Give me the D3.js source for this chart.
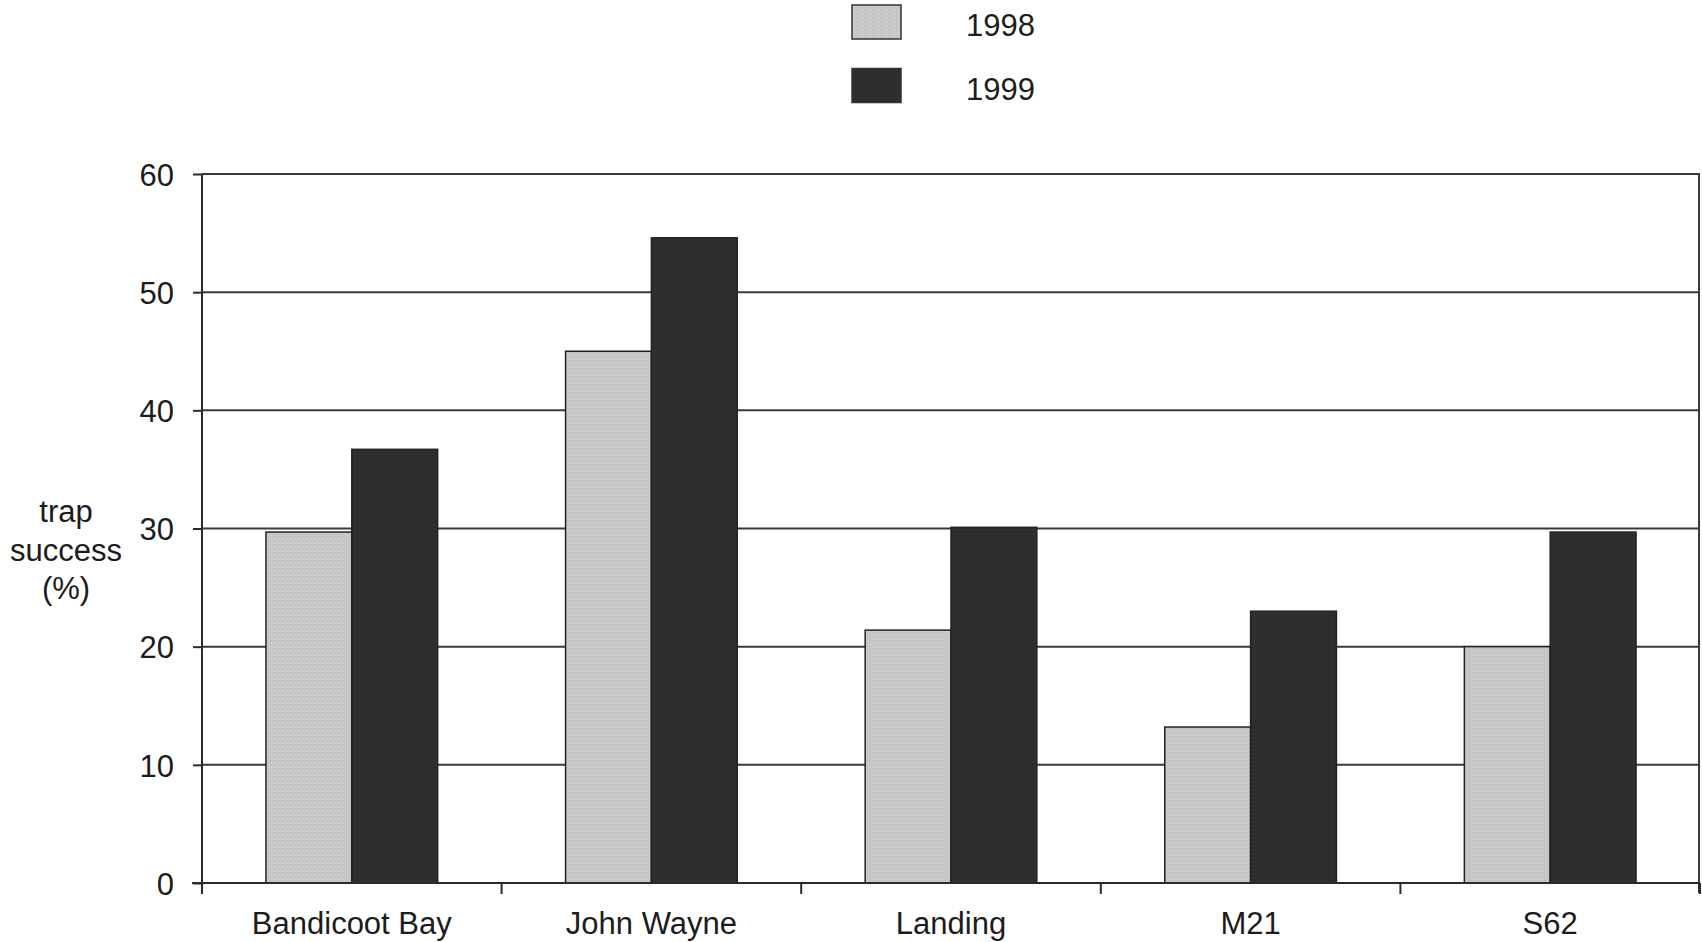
<!DOCTYPE html>
<html>
<head>
<meta charset="utf-8">
<script src="https://cdn.jsdelivr.net/npm/d3@7"></script>
<style>
  html, body { margin: 0; padding: 0; background: #fff; }
  svg { display: block; font-family: "Liberation Sans", Arial, sans-serif; }
</style>
</head>
<body>
<svg id="chart" width="1702" height="942"></svg>
<script>
// Trap success by site, 1998 vs 1999
const sites = ["Bandicoot Bay", "John Wayne", "Landing", "M21", "S62"];
const years = ["1998", "1999"];
const values1998 = [29.7, 45.0, 21.4, 13.2, 20.0];
const values1999 = [36.7, 54.6, 30.1, 23.0, 29.7];
const yTicks = [0, 10, 20, 30, 40, 50, 60];
const yTitle = ["trap", "success", "(%)"];

const seriesByYear = { "1998": values1998, "1999": values1999 };
const fills = { "1998": "url(#lightStipple)", "1999": "url(#darkStipple)" };

const svg = d3.select("#chart");
const plot = { left: 202, right: 1700, top: 174, bottom: 883 };

// stippled fills for the bars
const defs = svg.append("defs");
const light = defs.append("pattern").attr("id", "lightStipple")
  .attr("patternUnits", "userSpaceOnUse").attr("width", 4).attr("height", 4);
light.append("rect").attr("width", 4).attr("height", 4).attr("fill", "#c8c8c8");
light.append("rect").attr("x", 0).attr("y", 0).attr("width", 1).attr("height", 1).attr("fill", "#b2b2b2");
light.append("rect").attr("x", 2).attr("y", 2).attr("width", 1).attr("height", 1).attr("fill", "#b7b7b7");
light.append("rect").attr("x", 1).attr("y", 3).attr("width", 1).attr("height", 1).attr("fill", "#d6d6d6");
light.append("rect").attr("x", 3).attr("y", 1).attr("width", 1).attr("height", 1).attr("fill", "#d4d4d4");
const dark = defs.append("pattern").attr("id", "darkStipple")
  .attr("patternUnits", "userSpaceOnUse").attr("width", 4).attr("height", 4);
dark.append("rect").attr("width", 4).attr("height", 4).attr("fill", "#2e2e2e");
dark.append("rect").attr("x", 1).attr("y", 1).attr("width", 1).attr("height", 1).attr("fill", "#363636");
dark.append("rect").attr("x", 3).attr("y", 3).attr("width", 1).attr("height", 1).attr("fill", "#262626");

const x = d3.scaleBand().domain(sites)
  .range([plot.left, plot.right]).paddingInner(0.427).paddingOuter(0.2135);
const xInner = d3.scaleBand().domain(years).range([0, x.bandwidth()]);
const y = d3.scaleLinear().domain([0, 60]).range([plot.bottom, plot.top]);

const ink = "#2a2a2a";
const textInk = "#1c1c1c";

// horizontal gridlines
svg.append("g").selectAll("line").data(yTicks.filter(t => t > 0)).join("line")
  .attr("x1", plot.left).attr("x2", plot.right)
  .attr("y1", d => y(d)).attr("y2", d => y(d))
  .attr("stroke", "#3a3a3a").attr("stroke-width", 2);

// right border of plot area
svg.append("line")
  .attr("x1", plot.right - 1).attr("x2", plot.right - 1)
  .attr("y1", y(60)).attr("y2", plot.bottom + 10)
  .attr("stroke", "#3a3a3a").attr("stroke-width", 2);

// bars
const groups = svg.append("g").selectAll("g").data(sites).join("g")
  .attr("transform", d => `translate(${x(d)},0)`);
groups.selectAll("rect")
  .data((site, i) => years.map(yr => ({ yr, v: seriesByYear[yr][i] })))
  .join("rect")
  .attr("x", d => xInner(d.yr))
  .attr("width", xInner.bandwidth())
  .attr("y", d => y(d.v))
  .attr("height", d => y(0) - y(d.v))
  .attr("fill", d => fills[d.yr])
  .attr("stroke", "#222").attr("stroke-width", 1.5);

// y axis
const yAxis = svg.append("g").attr("transform", `translate(${plot.left},0)`)
  .call(d3.axisLeft(y).tickValues(yTicks).tickSize(9).tickPadding(19).tickFormat(d3.format("d")));
yAxis.select(".domain").attr("stroke", ink).attr("stroke-width", 2)
  .attr("d", `M0,${plot.top}V${plot.bottom + 10}`);
yAxis.selectAll(".tick line").attr("stroke", ink).attr("stroke-width", 2);
yAxis.selectAll(".tick text").attr("fill", textInk)
  .style("font-size", "31px").attr("dy", "0.36em");

// x axis: labels at band centres, ticks at category boundaries
const xAxis = svg.append("g").attr("transform", `translate(0,${plot.bottom})`)
  .call(d3.axisBottom(x).tickSize(0));
xAxis.select(".domain").attr("stroke", ink).attr("stroke-width", 2)
  .attr("d", `M${plot.left - 10},0H${plot.right}`);
xAxis.selectAll(".tick text").attr("fill", textInk).style("font-size", "31px")
  .attr("y", 51).attr("dy", 0);
const step = x.step();
const boundaries = d3.range(sites.length + 1).map(i => plot.left + i * step);
svg.append("g").selectAll("line").data(boundaries).join("line")
  .attr("x1", d => d).attr("x2", d => d)
  .attr("y1", plot.bottom).attr("y2", plot.bottom + 11)
  .attr("stroke", ink).attr("stroke-width", 2);

// y axis title
svg.append("text").attr("text-anchor", "middle").attr("fill", textInk).style("font-size", "31px")
  .selectAll("tspan").data(yTitle).join("tspan")
  .attr("x", 66).attr("y", (d, i) => 522 + i * 38.5).text(d => d);

// legend
const legend = svg.append("g").selectAll("g").data(years).join("g")
  .attr("transform", (d, i) => `translate(852,${5 + i * 63.5})`);
legend.append("rect").attr("width", 49).attr("height", 34)
  .attr("fill", d => fills[d]).attr("stroke", "#333").attr("stroke-width", 1.5);
legend.append("text").attr("x", 114).attr("y", 20).attr("dy", "0.36em")
  .attr("fill", textInk).style("font-size", "31px").text(d => d);
</script>
</body>
</html>
